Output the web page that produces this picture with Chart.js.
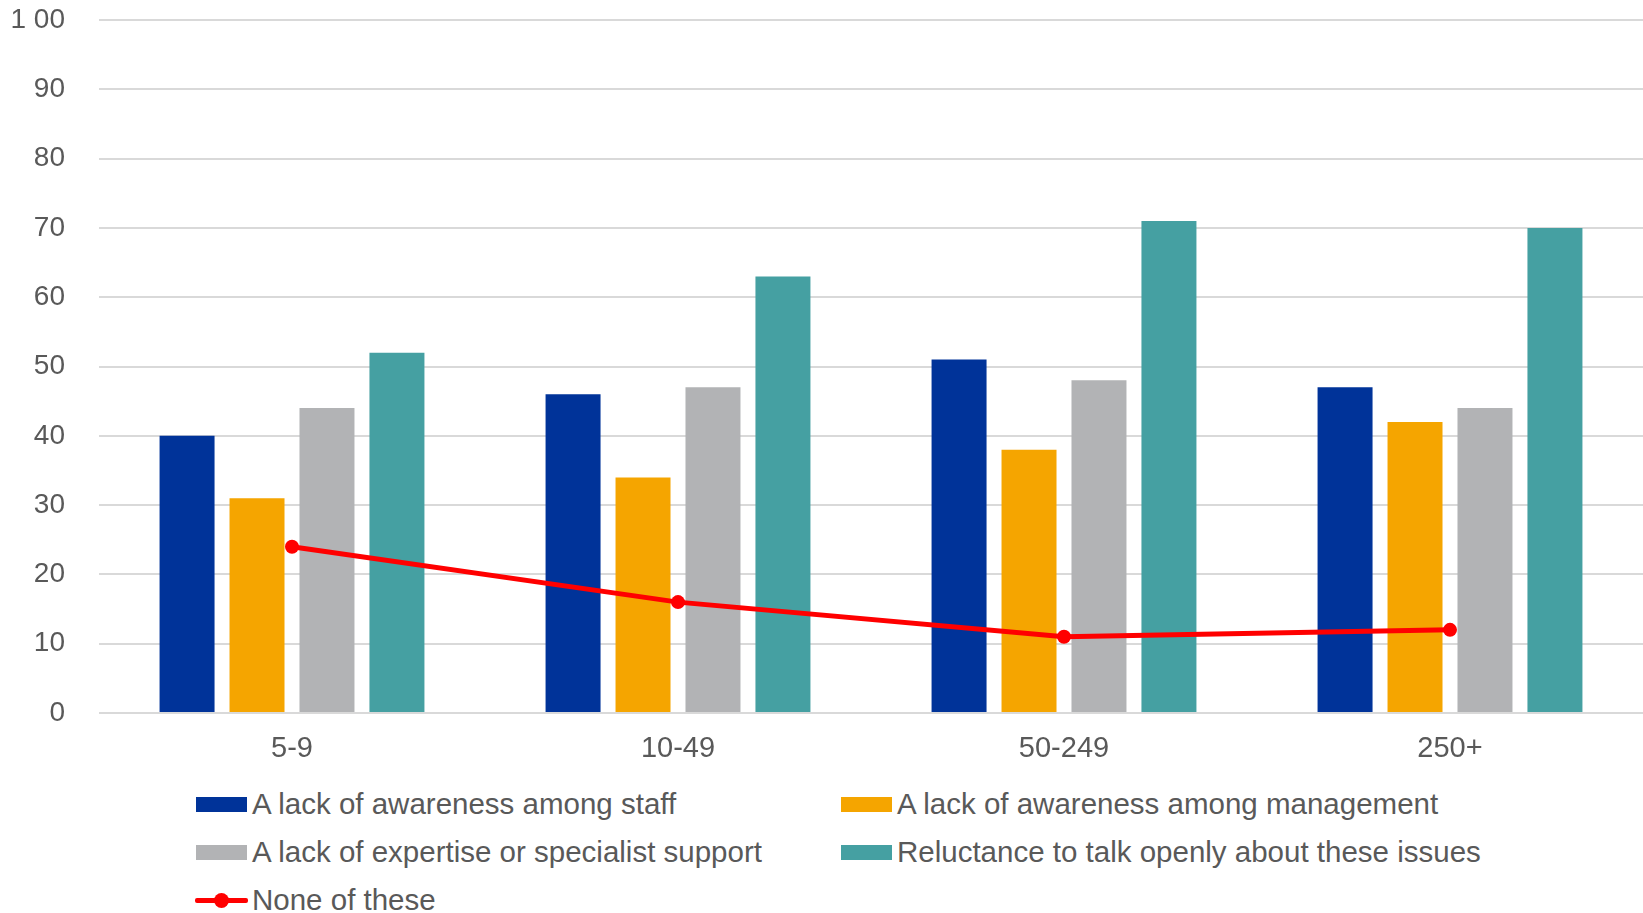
<!DOCTYPE html>
<html>
<head>
<meta charset="utf-8">
<script src="https://cdn.jsdelivr.net/npm/chart.js@4.4.1/dist/chart.umd.min.js"></script>
<style>
    html, body { margin: 0; padding: 0; background: #fff; }
    body {
        width: 1643px; height: 913px; position: relative; overflow: hidden;
        font-family: "Liberation Sans", Arial, sans-serif; color: #595959;
    }
    #chart { position: absolute; left: 0; top: 0; }
    .item {
        position: absolute; display: flex; align-items: center;
        height: 40px; font-size: 29.5px; white-space: nowrap;
    }
    .swatch { width: 51px; height: 15px; margin-right: 5px; }
    .lineSwatch { position: relative; width: 53px; height: 15px; margin-right: 4px; }
    .lineSwatch .bar { position: absolute; left: 0; right: 0; top: 5px; height: 5px; background: #ff0000; border-radius: 2px; }
    .lineSwatch .dot { position: absolute; left: 19px; top: 0; width: 15px; height: 15px; border-radius: 50%; background: #ff0000; }
</style>
</head>
<body>
<canvas id="chart" width="1643" height="763"></canvas>
<div id="legend"></div>

<script>
// ---- data ----
const categories = ['5-9', '10-49', '50-249', '250+'];

const staffAwareness      = [40, 46, 51, 47];
const managementAwareness = [31, 34, 38, 42];
const expertiseSupport    = [44, 47, 48, 44];
const reluctanceToTalk    = [52, 63, 71, 70];
const noneOfThese         = [24, 16, 11, 12];

const yTickLabels = ['0', '10', '20', '30', '40', '50', '60', '70', '80', '90', '1 00'];

const seriesNames = [
    'A lack of awareness among staff',
    'A lack of awareness among management',
    'A lack of expertise or specialist support',
    'Reluctance to talk openly about these issues',
    'None of these'
];
const seriesColors = ['#003399', '#f5a500', '#b2b3b5', '#45a0a2', '#ff0000'];

const TEXT = '#595959';
const GRID = '#d9d9d9';

// ---- chart ----
const barSeries = [staffAwareness, managementAwareness, expertiseSupport, reluctanceToTalk];

const datasets = barSeries.map((vals, i) => ({
    type: 'bar',
    label: seriesNames[i],
    data: vals,
    backgroundColor: seriesColors[i],
    borderWidth: 0,
    categoryPercentage: 0.725,
    barPercentage: 0.786,
    order: 2
}));

datasets.push({
    type: 'line',
    label: seriesNames[4],
    data: noneOfThese,
    borderColor: seriesColors[4],
    backgroundColor: seriesColors[4],
    borderWidth: 5,
    pointRadius: 7,
    pointBorderWidth: 0,
    pointBackgroundColor: seriesColors[4],
    tension: 0,
    clip: false,
    order: 1
});

new Chart(document.getElementById('chart'), {
    type: 'bar',
    data: { labels: categories, datasets: datasets },
    options: {
        responsive: false,
        animation: false,
        devicePixelRatio: 1,
        layout: { autoPadding: false, padding: { top: 20, left: 0, right: 0, bottom: 0 } },
        plugins: {
            legend: { display: false },
            tooltip: { enabled: false }
        },
        scales: {
            x: {
                grid: { display: false },
                border: { display: false },
                ticks: {
                    color: TEXT,
                    padding: 11,
                    font: { family: '"Liberation Sans", Arial, sans-serif', size: 29 }
                },
                afterFit: s => { s.height = 50; s.paddingLeft = 0; s.paddingRight = 0; }
            },
            y: {
                min: 0,
                max: 100,
                grid: { color: GRID, lineWidth: 2, drawTicks: false },
                border: { display: false },
                ticks: {
                    stepSize: 10,
                    color: TEXT,
                    padding: 34,
                    font: { family: '"Liberation Sans", Arial, sans-serif', size: 28 },
                    callback: (v, i) => yTickLabels[i]
                },
                afterFit: s => { s.width = 99; s.paddingTop = 0; s.paddingBottom = 0; }
            }
        }
    }
});

// ---- legend (two columns, like the original) ----
const legendSpots = [
    { left: 196, top: 784 },
    { left: 841, top: 784 },
    { left: 196, top: 832 },
    { left: 841, top: 832 },
    { left: 195, top: 880 }
];
const legend = document.getElementById('legend');
seriesNames.forEach((name, i) => {
    const el = document.createElement('div');
    el.className = 'item';
    el.style.left = legendSpots[i].left + 'px';
    el.style.top = legendSpots[i].top + 'px';
    if (i < 4) {
        el.innerHTML = `<span class="swatch" style="background:${seriesColors[i]}"></span><span>${name}</span>`;
    } else {
        el.innerHTML = `<span class="lineSwatch"><span class="bar"></span><span class="dot"></span></span><span>${name}</span>`;
    }
    legend.appendChild(el);
});
</script>
</body>
</html>
